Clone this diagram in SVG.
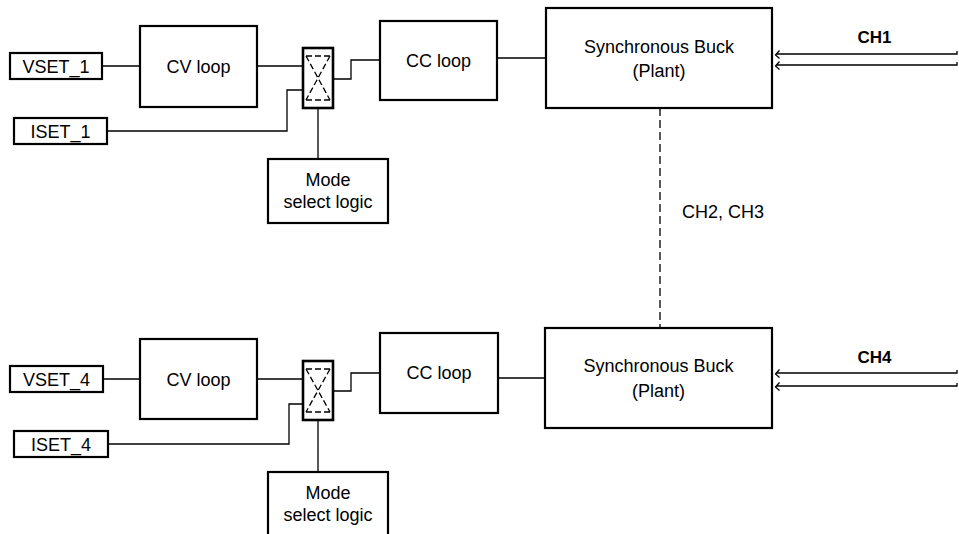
<svg xmlns="http://www.w3.org/2000/svg" width="959" height="534" viewBox="0 0 959 534">
<style>
.box{fill:#fff;stroke:#000;stroke-width:2.2}
.mux{fill:#fff;stroke:#000;stroke-width:2.6}
.dash{fill:none;stroke:#000;stroke-width:1.3;stroke-dasharray:6 3}
.ln{fill:none;stroke:#000;stroke-width:1.3}
.t{font-family:"Liberation Sans",Arial,sans-serif;font-size:18px;fill:#000;text-anchor:middle}
.b{font-weight:bold;font-size:17px}
</style>
<rect width="959" height="534" fill="#fff"/>
<g id="connectors">
<path class="ln" d="M102,66 H140 M257,66 H303 M107,131 H287 V90 H303 M333,79 H351 V60 H380 M318,108 V159 M497,58 H546"/>
<path class="ln" d="M103,379 H140 M257,379 H303 M108,444 H289 V404 H303 M333,391 H351 V373 H380 M318,420 V472 M498,378 H545"/>
<path fill="none" stroke="#000" stroke-width="1.3" stroke-dasharray="8 4" d="M660,108 V328"/>
<path class="ln" d="M957,51 V54 H776 M779.5,50.5 L775.5,55 L779.5,58.5 M957,62 V65 H776 M779.5,61.5 L775.5,66 L779.5,69.5"/>
<path class="ln" d="M957,370 V373 H776 M779.5,369.5 L775.5,374 L779.5,377.5 M957,383 V386 H776 M779.5,382.5 L775.5,387 L779.5,390.5"/>
</g>
<g id="vset1"><rect class="box" x="10" y="53" width="92" height="26"/><text class="t" x="56" y="72.5">VSET_1</text></g>
<g id="iset1"><rect class="box" x="14" y="118" width="93" height="26"/><text class="t" x="60.5" y="137.5">ISET_1</text></g>
<g id="cv1"><rect class="box" x="140" y="26" width="117" height="81"/><text class="t" x="198.5" y="72.5">CV loop</text></g>
<g id="mux1"><rect class="mux" x="303" y="48" width="30" height="60"/><path class="dash" d="M306,56 H330 M306,100 H330 M306,56 L330,100 M330,56 L306,100"/></g>
<g id="mode1"><rect class="box" x="268" y="159" width="120" height="64"/><text class="t" x="328" y="185.5">Mode</text><text class="t" x="328" y="208">select logic</text></g>
<g id="cc1"><rect class="box" x="380" y="21" width="117" height="79"/><text class="t" x="438.5" y="66.5">CC loop</text></g>
<g id="buck1"><rect class="box" x="546" y="8" width="226" height="100"/><text class="t" x="659" y="53">Synchronous Buck</text><text class="t" x="659" y="76.5">(Plant)</text></g>
<g id="ch1"><text class="t b" x="874.5" y="43.3">CH1</text></g>
<g id="ch23"><text class="t" x="682" y="218" style="text-anchor:start">CH2, CH3</text></g>
<g id="vset4"><rect class="box" x="10" y="366" width="93" height="26"/><text class="t" x="56.5" y="385.5">VSET_4</text></g>
<g id="iset4"><rect class="box" x="14" y="431" width="94" height="26"/><text class="t" x="61" y="450.5">ISET_4</text></g>
<g id="cv4"><rect class="box" x="140" y="339" width="117" height="80"/><text class="t" x="198.5" y="385.5">CV loop</text></g>
<g id="mux4"><rect class="mux" x="303" y="361" width="30" height="59"/><path class="dash" d="M306,369 H330 M306,412 H330 M306,369 L330,412 M330,369 L306,412"/></g>
<g id="mode4"><rect class="box" x="268" y="472" width="120" height="66"/><text class="t" x="328" y="499">Mode</text><text class="t" x="328" y="521">select logic</text></g>
<g id="cc4"><rect class="box" x="380" y="333" width="118" height="80"/><text class="t" x="439" y="379.3">CC loop</text></g>
<g id="buck4"><rect class="box" x="545" y="328" width="227" height="100"/><text class="t" x="658.5" y="371.7">Synchronous Buck</text><text class="t" x="658.5" y="396.5">(Plant)</text></g>
<g id="ch4"><text class="t b" x="874.5" y="363.3">CH4</text></g>
</svg>
